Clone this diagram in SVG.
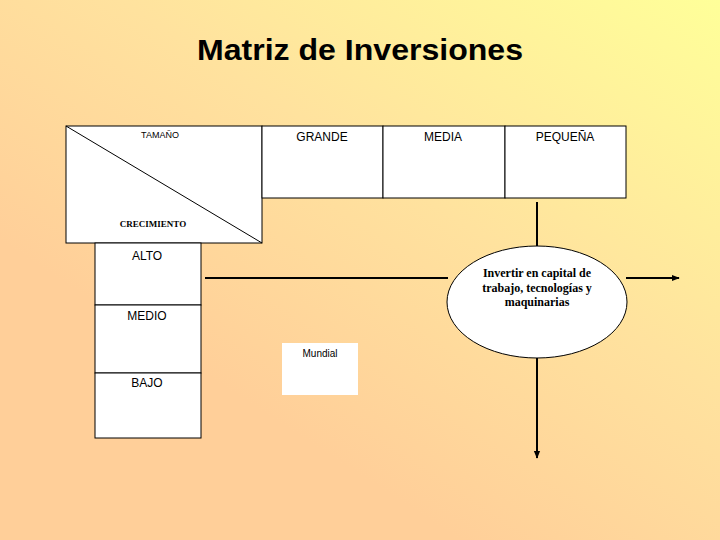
<svg xmlns="http://www.w3.org/2000/svg" width="720" height="540" viewBox="0 0 720 540">
<defs>
<linearGradient id="bg" x1="1" y1="0" x2="0.35" y2="0.75">
<stop offset="0" stop-color="#FFFF99"/>
<stop offset="0.55" stop-color="#FFE29E"/>
<stop offset="1" stop-color="#FFCF99"/>
</linearGradient>
<marker id="arr" viewBox="0 0 10 10" refX="9" refY="5" markerWidth="8" markerHeight="8" markerUnits="userSpaceOnUse" orient="auto">
<path d="M0,1 L10,5 L0,9 Z" fill="#000"/>
</marker>
<style>
.box{fill:#fff;stroke:#000;stroke-width:1}
.hdr{font-family:"Liberation Sans",Arial,sans-serif;font-size:12px;text-anchor:middle;fill:#000}
.sm{font-size:9px}
.mu{font-size:10px}
.ser{font-family:"Liberation Serif","Times New Roman",serif;font-weight:bold;text-anchor:middle;fill:#000;font-size:12px}
.cr{font-size:9px}
.conn{stroke:#000;stroke-width:2;fill:none}
</style>
</defs>
<rect width="720" height="540" fill="url(#bg)"/>
<text x="360" y="60" font-family="'Liberation Sans',Arial,sans-serif" font-weight="bold" font-size="29" text-anchor="middle" textLength="326" lengthAdjust="spacingAndGlyphs">Matriz de Inversiones</text>

<g id="corner">
<rect class="box" x="66" y="126" width="196" height="117"/>
<line x1="66" y1="126" x2="262" y2="243" stroke="#000" stroke-width="1"/>
<text class="hdr sm" x="160" y="138">TAMAÑO</text>
<text class="ser cr" x="153" y="227">CRECIMIENTO</text>
</g>
<g id="grande"><rect class="box" x="262" y="126" width="121" height="72"/><text class="hdr" x="322" y="141">GRANDE</text></g>
<g id="media"><rect class="box" x="383" y="126" width="122" height="72"/><text class="hdr" x="443" y="141">MEDIA</text></g>
<g id="pequena"><rect class="box" x="505" y="126" width="121" height="72"/><text class="hdr" x="565" y="141">PEQUEÑA</text></g>
<g id="alto"><rect class="box" x="95" y="243" width="106" height="62"/><text class="hdr" x="147" y="260">ALTO</text></g>
<g id="medio"><rect class="box" x="95" y="305" width="106" height="68"/><text class="hdr" x="147" y="320">MEDIO</text></g>
<g id="bajo"><rect class="box" x="95" y="373" width="106" height="65"/><text class="hdr" x="147" y="387">BAJO</text></g>
<g id="mundial"><rect x="282" y="343" width="76" height="52" fill="#fff"/><text class="hdr mu" x="320" y="357">Mundial</text></g>
<g id="invertir">
<ellipse cx="537" cy="302" rx="90" ry="56" fill="#fff" stroke="#000" stroke-width="1"/>
<text class="ser" x="537" y="277">Invertir en capital de</text>
<text class="ser" x="537" y="292">trabajo, tecnologías y</text>
<text class="ser" x="537" y="306">maquinarias</text>
</g>
<g id="connectors">
<line class="conn" x1="537" y1="202" x2="537" y2="246"/>
<line class="conn" x1="205" y1="278" x2="448" y2="278"/>
<line class="conn" x1="626" y1="278" x2="679" y2="278" marker-end="url(#arr)"/>
<line class="conn" x1="537" y1="358" x2="537" y2="458" marker-end="url(#arr)"/>
</g>
</svg>
